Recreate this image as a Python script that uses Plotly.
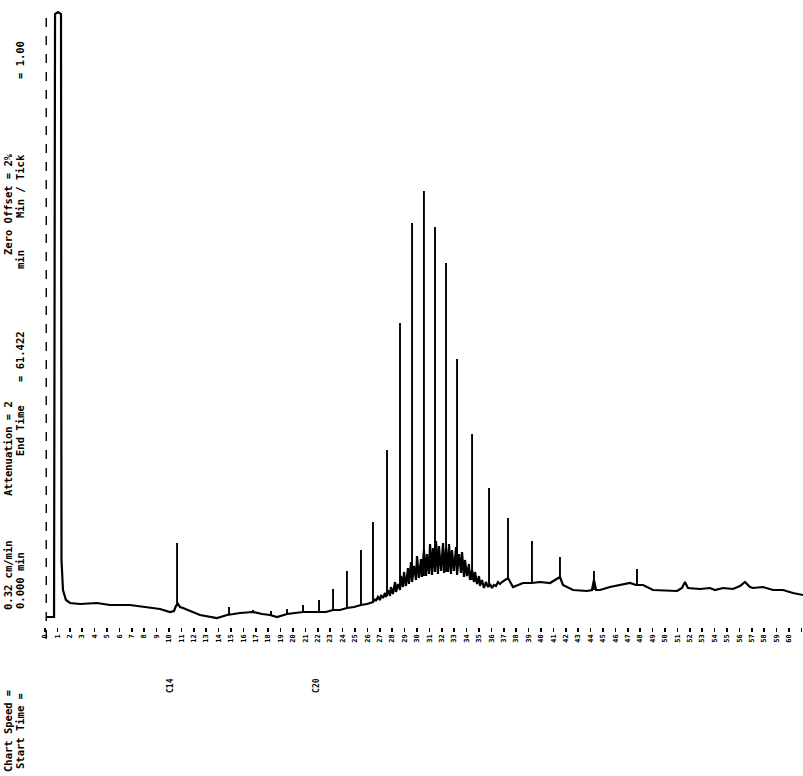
import plotly.graph_objects as go

# ---- chromatogram data (time in min, detector response in arbitrary units) ----
# continuous trace vertices (baseline, solvent front, unresolved hump)
base_t = [0.16, 0.73, 0.81, 1.05, 1.29, 1.33, 1.45, 1.69, 2.02, 2.82, 4.19, 5.24, 6.85, 8.06, 9.27,
          10.08, 10.40, 10.56, 10.73, 10.89, 11.13, 12.50, 13.87, 14.68, 15.73, 16.77, 17.50, 18.15,
          18.71, 19.52, 20.16, 20.81, 21.37, 22.10, 22.66, 23.23, 23.79, 24.35, 24.92, 25.48, 25.97,
          26.45, 26.61, 26.69, 26.85, 27.02, 27.10, 27.26, 27.42, 27.50, 27.66, 27.82, 27.90, 28.06,
          28.23, 28.31, 28.47, 28.63, 28.71, 28.87, 28.95, 29.11, 29.27, 29.35, 29.52, 29.60, 29.76,
          29.92, 30.00, 30.16, 30.32, 30.40, 30.56, 30.73, 30.81, 30.97, 31.05, 31.21, 31.29, 31.45,
          31.53, 31.69, 31.77, 31.94, 32.10, 32.18, 32.34, 32.50, 32.58, 32.74, 32.82, 32.98, 33.15,
          33.23, 33.39, 33.55, 33.63, 33.79, 33.87, 34.03, 34.19, 34.27, 34.44, 34.60, 34.68, 34.84,
          35.00, 35.08, 35.24, 35.40, 35.56, 35.73, 35.89, 36.05, 36.21, 36.37, 36.53, 36.69, 36.85,
          37.34, 37.74, 38.55, 39.27, 39.92, 40.73, 41.53, 41.77, 42.58, 43.71, 44.11, 44.27, 44.44,
          44.76, 45.56, 46.37, 47.18, 47.66, 48.23, 49.03, 50.16, 50.97, 51.37, 51.61, 51.85, 52.82,
          53.63, 54.03, 54.68, 55.48, 56.05, 56.45, 56.85, 57.10, 57.90, 58.71, 59.52, 60.32, 61.13]
base_s = [15, 15, 618, 620, 618, 72, 42, 32, 29, 28, 29, 27, 27, 25, 23,
          20, 21, 26, 28, 25, 24, 17, 14, 17, 19, 20, 18, 17,
          15, 18, 19, 20, 20, 20, 20, 22, 22, 24, 25, 27, 28,
          30, 33, 31, 35, 32, 37, 34, 39, 35, 42, 36, 45, 38,
          50, 40, 48, 42, 56, 45, 60, 46, 64, 48, 70, 50, 66,
          52, 76, 54, 73, 55, 82, 56, 78, 58, 88, 57, 84, 60,
          91, 58, 86, 61, 89, 59, 84, 60, 88, 58, 82, 61, 85,
          57, 78, 59, 80, 55, 72, 56, 68, 52, 62, 50, 60, 48,
          56, 46, 52, 44, 50, 45, 48, 44, 47, 46, 50, 48, 50,
          54, 45, 49, 49, 50, 49, 55, 47, 42, 41, 42, 52, 42,
          42, 45, 47, 49, 47, 47, 42, 41, 41, 44, 50, 44, 43,
          44, 42, 44, 43, 46, 50, 45, 44, 45, 42, 42, 39, 37]

# resolved component peaks: retention time, apex response, foot response
peak_t = [10.65, 14.84, 16.77, 18.23, 19.52, 20.81, 22.10, 23.23, 24.35, 25.48, 26.45, 27.58,
          28.63, 29.60, 30.56, 31.45, 32.34, 33.23, 34.44, 35.81, 37.34, 39.27, 41.53, 44.27, 47.74]
peak_top = [89, 25, 22, 21, 23, 27, 32, 43, 61, 82, 110, 182,
            309, 409, 441, 405, 369, 273, 198, 144, 114, 91, 75, 61, 63]
peak_foot = [26, 17, 20, 17, 18, 20, 20, 22, 24, 27, 30, 36,
             42, 50, 56, 60, 60, 57, 52, 45, 54, 49, 55, 42, 47]

tick_vals = list(range(0, 62))
tick_text = ["<b>%d</b>" % v for v in tick_vals]
inject_t = [0.0]
label_t = [10.08, 21.85]
label_txt = ["C14", "C20"]

# ---- pixel helpers for text placement (figure is 803 x 776, plot area 0..632 px tall) ----
W, H, PLOT_B = 803.0, 776.0, 632.0
X0, XPPM = 45.0, 12.4      # pixel of t=0, pixels per minute


def px_t(px):
    return (px - X0) / XPPM


def paper_x(px):
    return px / W


def paper_y(py):
    return (PLOT_B - py) / PLOT_B


fig = go.Figure()

fig.add_trace(go.Scatter(x=base_t, y=base_s, mode="lines",
                         line=dict(color="black", width=2.2), hoverinfo="skip",
                         showlegend=False))

pxs, pys = [], []
for t, top, foot in zip(peak_t, peak_top, peak_foot):
    pxs += [t, t, None]
    pys += [foot, top, None]
fig.add_trace(go.Scatter(x=pxs, y=pys, mode="lines",
                         line=dict(color="black", width=1.9), hoverinfo="skip",
                         showlegend=False))

for t in inject_t:
    fig.add_shape(type="line", xref="x", yref="paper", x0=t + 0.1, x1=t + 0.1,
                  y0=paper_y(18), y1=paper_y(648),
                  line=dict(color="black", width=1.4, dash="dash"))

mono = "DejaVu Sans Mono"
txt = [
    ("Chart Speed =", 8, 731),
    ("0.32 cm/min", 8, 575),
    ("Attenuation = 2", 8, 449),
    ("Zero Offset = 2%", 8, 204),
    ("Start Time =", 20, 731),
    ("0.000 min", 20, 581),
    ("End Time", 20, 431),
    ("= 61.422", 20, 357),
    ("min", 20, 260),
    ("Min / Tick", 20, 186),
    ("= 1.00", 20, 60),
]
for s, x, y in txt:
    fig.add_annotation(x=paper_x(x), y=paper_y(y), xref="paper", yref="paper",
                       xanchor="center", yanchor="middle",
                       text="<b>%s</b>" % s, textangle=-90, showarrow=False,
                       font=dict(family=mono, size=10.5, color="black"))

for t, s in zip(label_t, label_txt):
    fig.add_annotation(x=t, y=paper_y(685), xref="x", yref="paper", text="<b>%s</b>" % s,
                       xanchor="center", yanchor="middle",
                       textangle=-90, showarrow=False,
                       font=dict(family=mono, size=8, color="black"))

fig.update_layout(
    width=803, height=776,
    margin=dict(l=0, r=0, t=0, b=776 - 632, pad=0),
    paper_bgcolor="white", plot_bgcolor="white",
    xaxis=dict(range=[px_t(0), px_t(803)], showgrid=False, zeroline=False, showline=False,
               automargin=False,
               tickmode="array", tickvals=tick_vals, ticktext=tick_text,
               ticks="inside", ticklen=4, tickwidth=1.5, tickcolor="black",
               tickangle=-90, tickfont=dict(family=mono, size=7, color="black")),
    yaxis=dict(range=[0, 632], visible=False, automargin=False),
)

fig.write_html("out.html", config={"displayModeBar": False, "staticPlot": True},
               post_script="document.body.style.margin='0';document.body.style.overflow='hidden';")
